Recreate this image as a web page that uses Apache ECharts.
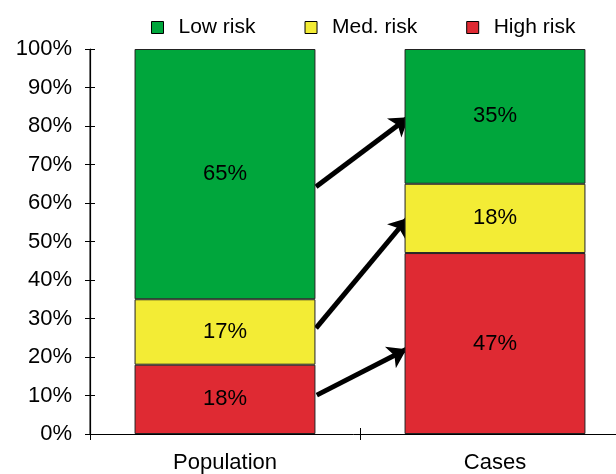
<!DOCTYPE html>
<html><head><meta charset="utf-8">
<script src="https://cdn.jsdelivr.net/npm/echarts@6/dist/echarts.min.js"></script>
<style>html,body{margin:0;padding:0;background:#fff}#c{width:616px;height:474px}</style>
</head><body><div id="c"></div>
<script>
const categories = ['Population', 'Cases'];
const highRisk = [18, 47];
const medRisk = [17, 18];
const lowRisk = [65, 35];
const yTicks = [0, 10, 20, 30, 40, 50, 60, 70, 80, 90, 100];
// arrows: [fromX, fromY%], [toX, toY%] in category units (0..2), category centres at 0.5 and 1.5
const arrows = [
  [[0.837, 64.2], [1.180, 82.3]],
  [[0.837, 27.5], [1.177, 56.1]],
  [[0.840, 10.1], [1.172, 22.0]]
];

const font = '"Liberation Sans", Arial, sans-serif';
const chart = echarts.init(document.getElementById('c'));
const barBase = {
  type: 'bar', stack: 'all', barWidth: '67%', xAxisIndex: 0, yAxisIndex: 0,
  label: { show: true, position: 'inside', formatter: '{c}%', fontFamily: font, fontSize: 22, color: '#000' }
};
chart.setOption({
  animation: false,
  textStyle: { fontFamily: font },
  legend: {
    data: ['Low risk', 'Med. risk', 'High risk'],
    left: 146, top: 12,
    itemWidth: 12, itemHeight: 12, itemGap: 49,
    icon: 'rect',
    itemStyle: { borderColor: '#000', borderWidth: 1 },
    textStyle: { fontFamily: font, fontSize: 21, color: '#000', padding: [0, 0, 0, 10] }
  },
  grid: { left: 90, top: 49, width: 540, height: 385, containLabel: false, outerBoundsMode: 'none' },
  xAxis: [
    { type: 'category', data: categories, boundaryGap: true,
      axisLine: { onZero: false, lineStyle: { color: '#000', width: 1 } },
      axisTick: { show: true, length: 6, lineStyle: { color: '#000' } },
      axisLabel: { color: '#000', fontSize: 22, fontFamily: font, margin: 18 } },
    { type: 'category', data: categories, boundaryGap: true, position: 'bottom',
      axisLine: { show: false, onZero: false },
      axisTick: { show: true, inside: true, length: 6, lineStyle: { color: '#000' } },
      axisLabel: { show: false } },
    { type: 'value', min: 0, max: 2, show: false }
  ],
  yAxis: [
    { type: 'value', min: 0, max: 100, interval: 10,
      axisLine: { show: true, onZero: false, lineStyle: { color: '#000', width: 1.2 } },
      axisTick: { show: true, length: 5, lineStyle: { color: '#000' } },
      splitLine: { show: false },
      axisLabel: { formatter: '{value}%', color: '#000', fontSize: 22, fontFamily: font, margin: 18 } },
    { type: 'value', min: 0, max: 100, interval: 10, position: 'left',
      axisLine: { show: false, onZero: false },
      axisTick: { show: true, inside: true, length: 5, lineStyle: { color: '#000' } },
      splitLine: { show: false }, axisLabel: { show: false } }
  ],
  series: [
    Object.assign({}, barBase, { name: 'High risk', data: highRisk,
      itemStyle: { color: '#df2a33', borderColor: '#222', borderWidth: 1 } }),
    Object.assign({}, barBase, { name: 'Med. risk', data: medRisk,
      itemStyle: { color: '#f3ec35', borderColor: '#222', borderWidth: 1 } }),
    Object.assign({}, barBase, { name: 'Low risk', data: lowRisk,
      itemStyle: { color: '#00a63c', borderColor: '#222', borderWidth: 1 } }),
    { type: 'bar', xAxisIndex: 1, yAxisIndex: 1, data: [], silent: true },
    { type: 'lines', coordinateSystem: 'cartesian2d', xAxisIndex: 2, yAxisIndex: 0,
      symbol: ['none', 'arrow'], symbolSize: 18,
      lineStyle: { color: '#000', width: 5, opacity: 1, curveness: 0 },
      data: arrows.map(a => ({ coords: a })) },
    { type: 'line', xAxisIndex: 2, yAxisIndex: 0, silent: true, showSymbol: false,
      lineStyle: { color: '#000', width: 1 },
      data: [[0, yTicks[0]], [0, yTicks[yTicks.length - 1]]] }
  ]
});
</script></body></html>
